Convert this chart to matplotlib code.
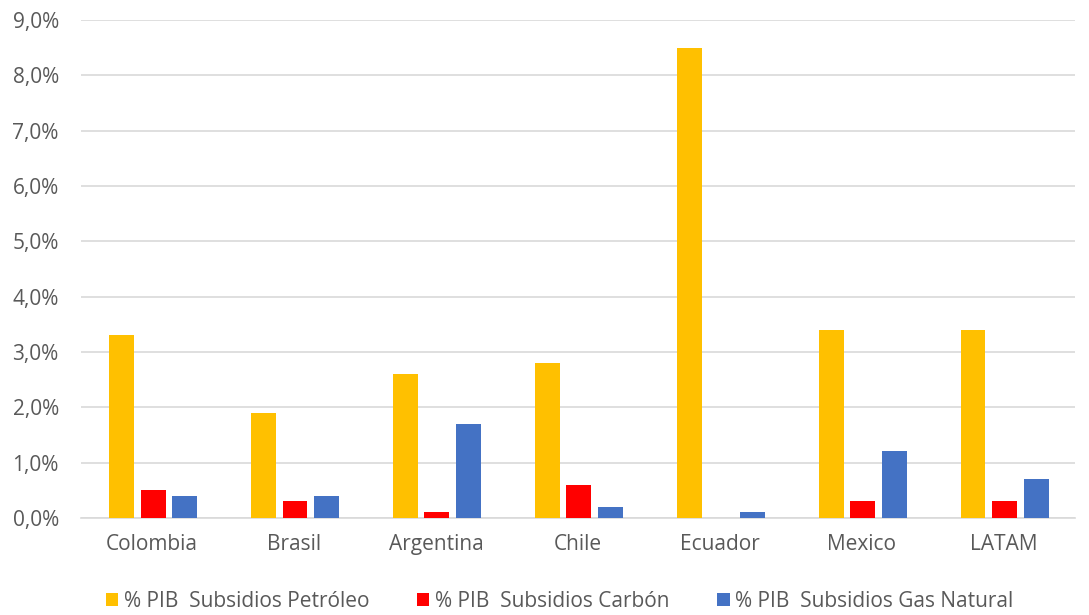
import numpy as np
import matplotlib.pyplot as plt
from matplotlib.ticker import FuncFormatter

paises = ["Colombia", "Brasil", "Argentina", "Chile", "Ecuador", "Mexico", "LATAM"]
petroleo = [3.3, 1.9, 2.6, 2.8, 8.5, 3.4, 3.4]
carbon = [0.5, 0.3, 0.1, 0.6, 0.0, 0.3, 0.3]
gas = [0.4, 0.4, 1.7, 0.2, 0.1, 1.2, 0.7]
series = ["% PIB  Subsidios Petróleo", "% PIB  Subsidios Carbón", "% PIB  Subsidios Gas Natural"]
colores = ["#FFC000", "#FF0000", "#4472C4"]

plt.rcParams['font.family'] = ['Open Sans', 'DejaVu Sans']
gris = "#595959"

fig = plt.figure(figsize=(10.89, 6.15), dpi=100)
ax = fig.add_axes([0.0744, 0.158, 0.9127, 0.8095])

x = np.arange(len(paises))
w = 0.176
off = 0.225
for i, (vals, lab, c) in enumerate(zip([petroleo, carbon, gas], series, colores)):
    ax.bar(x + (i - 1) * off + 0.007, vals, width=w, color=c, label=lab, zorder=3)

ax.set_xlim(-0.5, len(paises) - 0.5)
ax.set_ylim(0, 9)
ax.set_yticks(np.arange(0, 10, 1))
ax.yaxis.set_major_formatter(FuncFormatter(lambda v, p: f"{v:.1f}%".replace(".", ",")))
ax.set_xticks(x)
ax.set_xticklabels(paises)
ax.grid(axis='y', color="#d9d9d9", linewidth=1.2, zorder=0)
for s in ["top", "right", "left"]:
    ax.spines[s].set_visible(False)
ax.spines["bottom"].set_color("#d9d9d9")
ax.spines["bottom"].set_linewidth(1.2)
ax.tick_params(axis='both', length=0, labelsize=15, colors=gris)
ax.tick_params(axis='y', pad=16)
ax.tick_params(axis='x', pad=12)

fig.legend(loc='center left', bbox_to_anchor=(0.080, 0.022), ncol=3, frameon=False,
           fontsize=15, labelcolor=gris, handlelength=0.6, handleheight=0.6,
           handletextpad=0.25, columnspacing=2.3)

fig.savefig("out.png", dpi=100)
